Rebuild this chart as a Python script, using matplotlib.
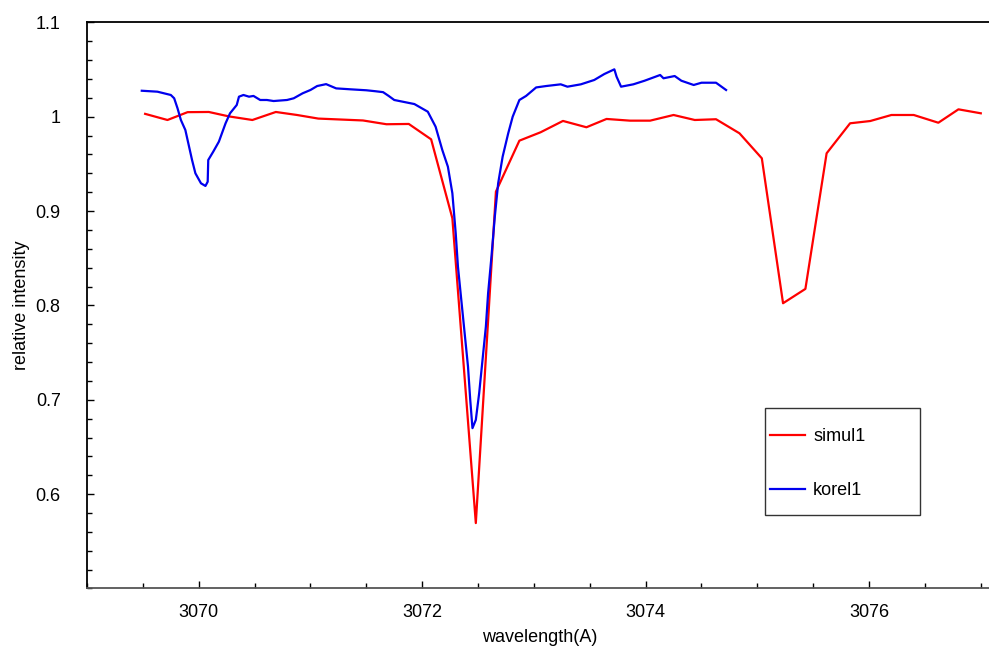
import matplotlib
matplotlib.use("Agg")
import matplotlib.pyplot as plt
from matplotlib.patches import Rectangle
from matplotlib.ticker import MultipleLocator, FixedLocator

plt.rcParams['font.family'] = ['Liberation Sans', 'DejaVu Sans']

# simulated spectrum (coarse grid)
simul_wl = [3069.52, 3069.72, 3069.90, 3070.09, 3070.27, 3070.48, 3070.69, 3070.88,
            3071.07, 3071.27, 3071.47, 3071.68, 3071.88, 3072.08, 3072.27, 3072.48,
            3072.66, 3072.87, 3073.06, 3073.26, 3073.47, 3073.65, 3073.86, 3074.04,
            3074.25, 3074.44, 3074.63, 3074.84, 3075.04, 3075.23, 3075.43, 3075.62,
            3075.83, 3076.01, 3076.20, 3076.40, 3076.62, 3076.80, 3077.00]
simul_int = [1.003, 0.9965, 1.0048, 1.0050, 1.0003, 0.9965, 1.0050, 1.0018,
             0.998, 0.997, 0.996, 0.992, 0.9923, 0.976, 0.8924, 0.5693,
             0.9206, 0.9746, 0.9835, 0.9955, 0.9888, 0.9976, 0.9958, 0.9958,
             1.0018, 0.9965, 0.9973, 0.9824, 0.9559, 0.8023, 0.8175, 0.9612,
             0.993, 0.9954, 1.0018, 1.0018, 0.9936, 1.0078, 1.0036]

# disentangled spectrum
korel_wl = [3069.49, 3069.63, 3069.75, 3069.78, 3069.81, 3069.84, 3069.88, 3069.91,
            3069.94, 3069.97, 3070.02, 3070.06, 3070.08, 3070.085, 3070.13, 3070.18,
            3070.24, 3070.28, 3070.34, 3070.36, 3070.40, 3070.45, 3070.49, 3070.55,
            3070.61, 3070.67, 3070.79, 3070.85, 3070.93, 3071.00, 3071.06, 3071.14,
            3071.23, 3071.36, 3071.50, 3071.58, 3071.65, 3071.70, 3071.75, 3071.93,
            3072.05, 3072.12, 3072.18, 3072.23, 3072.27, 3072.30, 3072.32, 3072.35,
            3072.38, 3072.41, 3072.43, 3072.45, 3072.48, 3072.51, 3072.54, 3072.57,
            3072.59, 3072.62, 3072.65, 3072.68, 3072.72, 3072.77, 3072.81, 3072.87,
            3072.93, 3073.02, 3073.11, 3073.24, 3073.30, 3073.42, 3073.54, 3073.63,
            3073.72, 3073.74, 3073.78, 3073.89, 3073.99, 3074.13, 3074.16, 3074.26,
            3074.32, 3074.43, 3074.50, 3074.63, 3074.72]
korel_int = [1.0275, 1.0265, 1.023, 1.0195, 1.0089, 0.9965, 0.9859, 0.970,
             0.9541, 0.940, 0.9294, 0.9266, 0.9311, 0.9541, 0.963, 0.9735,
             0.993, 1.0036, 1.0124, 1.0212, 1.023, 1.0212, 1.022, 1.0177,
             1.0177, 1.0166, 1.0177, 1.0195, 1.0248, 1.0283, 1.0325, 1.0345,
             1.030, 1.029, 1.028, 1.027, 1.026, 1.022, 1.0177, 1.0134,
             1.0053, 0.9894, 0.9647, 0.947, 0.9189, 0.8765, 0.8411, 0.8058,
             0.7705, 0.7352, 0.6999, 0.6699, 0.6787, 0.707, 0.7423, 0.7776,
             0.8129, 0.8517, 0.8941, 0.9294, 0.9576, 0.9824, 1.000, 1.0177,
             1.022, 1.031, 1.0325, 1.0343, 1.0318, 1.0343, 1.0389, 1.0452,
             1.0502, 1.0424, 1.0318, 1.0343, 1.0381, 1.0442, 1.0407, 1.0431,
             1.0381, 1.0336, 1.036, 1.036, 1.0283]

fig = plt.figure(figsize=(9.89, 6.53), dpi=100)
ax = fig.add_axes([0.088, 0.0988, 0.915, 0.867])

ax.plot(simul_wl, simul_int, color='#ff0000', lw=1.6, label='simul1')
ax.plot(korel_wl, korel_int, color='#0000ee', lw=1.6, label='korel1')

ax.set_xlim(3069, 3077.1)
ax.set_ylim(0.5, 1.1)

ax.xaxis.set_major_locator(FixedLocator([3070, 3072, 3074, 3076]))
ax.xaxis.set_minor_locator(MultipleLocator(0.5))
ax.yaxis.set_major_locator(FixedLocator([0.6, 0.7, 0.8, 0.9, 1.0, 1.1]))
ax.yaxis.set_minor_locator(MultipleLocator(0.02))
ax.set_yticklabels(['0.6', '0.7', '0.8', '0.9', '1', '1.1'])

ax.tick_params(which='both', direction='in', labelsize=13)
ax.tick_params(axis='x', which='major', length=5, pad=11, width=1)
ax.tick_params(axis='x', which='minor', length=3.5, width=1)
ax.tick_params(axis='y', which='major', length=5, pad=19, width=1)
ax.tick_params(axis='y', which='minor', length=3.5, width=1)

for s in ('left', 'top'):
    ax.spines[s].set_color('black')
ax.spines['bottom'].set_color('#555555')
for s in ax.spines.values():
    s.set_linewidth(1.3)

ax.set_xlabel('wavelength(A)', fontsize=13, labelpad=6)
ax.set_ylabel('relative intensity', fontsize=13, labelpad=4)

# legend box drawn separately so the entries can sit close to its left edge
ax.add_patch(Rectangle((0.749, 0.1298), 0.1713, 0.189, transform=ax.transAxes,
                       facecolor='white', edgecolor='#333333', lw=1.0, zorder=4))
leg = ax.legend(loc='upper left', bbox_to_anchor=(0.7547, 0.283), fontsize=13,
                frameon=False, borderpad=0, borderaxespad=0, handlelength=1.94,
                labelspacing=2.05, handletextpad=0.45)
leg.set_zorder(5)
for t in leg.get_texts():
    t.set_fontweight('medium')

fig.savefig('out.png', dpi=100)
